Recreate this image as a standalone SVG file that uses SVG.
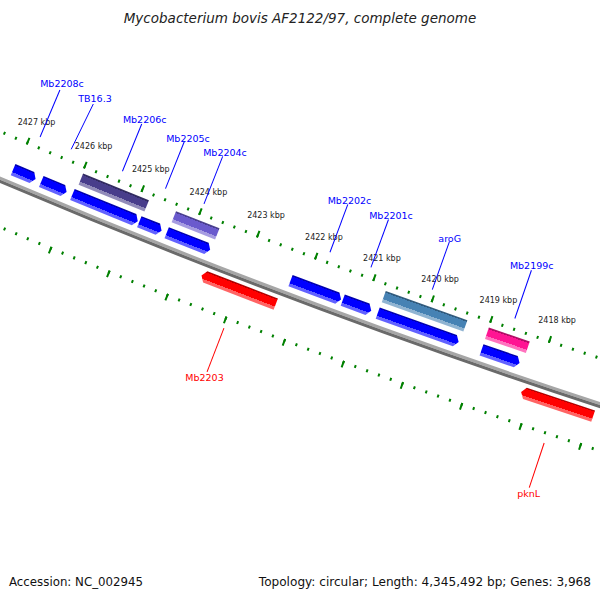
<svg xmlns="http://www.w3.org/2000/svg" width="600" height="600" viewBox="0 0 600 600">
<defs>
<linearGradient id="gBlue" x1="0" y1="0" x2="0" y2="1"><stop offset="0" stop-color="#0000b0"/><stop offset="0.12" stop-color="#0000b0"/><stop offset="0.12" stop-color="#0000ff"/><stop offset="0.72" stop-color="#0000ff"/><stop offset="0.72" stop-color="#6262ff"/><stop offset="1" stop-color="#6262ff"/></linearGradient>
<linearGradient id="gRed" x1="0" y1="0" x2="0" y2="1"><stop offset="0" stop-color="#b30000"/><stop offset="0.12" stop-color="#b30000"/><stop offset="0.12" stop-color="#ff0000"/><stop offset="0.72" stop-color="#ff0000"/><stop offset="0.72" stop-color="#ff6464"/><stop offset="1" stop-color="#ff6464"/></linearGradient>
<linearGradient id="gDsb" x1="0" y1="0" x2="0" y2="1"><stop offset="0" stop-color="#322b61"/><stop offset="0.14" stop-color="#322b61"/><stop offset="0.14" stop-color="#483d8b"/><stop offset="0.72" stop-color="#483d8b"/><stop offset="0.72" stop-color="#918bb9"/><stop offset="1" stop-color="#918bb9"/></linearGradient>
<linearGradient id="gSb" x1="0" y1="0" x2="0" y2="1"><stop offset="0" stop-color="#4a3f90"/><stop offset="0.14" stop-color="#4a3f90"/><stop offset="0.14" stop-color="#6a5acd"/><stop offset="0.72" stop-color="#6a5acd"/><stop offset="0.72" stop-color="#a69ce1"/><stop offset="1" stop-color="#a69ce1"/></linearGradient>
<linearGradient id="gStb" x1="0" y1="0" x2="0" y2="1"><stop offset="0" stop-color="#315b7e"/><stop offset="0.14" stop-color="#315b7e"/><stop offset="0.14" stop-color="#4682b4"/><stop offset="0.72" stop-color="#4682b4"/><stop offset="0.72" stop-color="#90b4d2"/><stop offset="1" stop-color="#90b4d2"/></linearGradient>
<linearGradient id="gPink" x1="0" y1="0" x2="0" y2="1"><stop offset="0" stop-color="#b30e67"/><stop offset="0.14" stop-color="#b30e67"/><stop offset="0.14" stop-color="#ff1493"/><stop offset="0.72" stop-color="#ff1493"/><stop offset="0.72" stop-color="#ff72be"/><stop offset="1" stop-color="#ff72be"/></linearGradient>
</defs>
<style>
text { font-family: "DejaVu Sans", "Liberation Sans", sans-serif; }
.title { font-size: 13.5px; font-style: italic; fill: #222; text-anchor: middle; }
.foot { font-size: 11.8px; fill: #111; }
.klab { font-size: 8px; fill: #222; text-anchor: middle; }
.glab { font-size: 9.5px; text-anchor: middle; }
.tb { fill: #0000ff; }
.tr { fill: #ff0000; }
.arc { fill: none; }
.tmaj { stroke: #008000; stroke-width: 7; stroke-dashoffset: 1; }
.tmin { stroke: #008000; stroke-width: 3; stroke-dashoffset: 1; }
.lb { stroke: #0000ff; stroke-width: 1; }
.lr { stroke: #ff0000; stroke-width: 1; }
.blue { fill: url(#gBlue); }
.red { fill: url(#gRed); }
</style>
<rect width="600" height="600" fill="#ffffff"/>
<text class="title" x="300" y="23">Mycobacterium bovis AF2122/97, complete genome</text>

<g id="ruler">
<path class="arc tmaj" style="stroke-dasharray:2 60.0465" transform="rotate(23.407 2950.5 -6766)" d="M2950.5 734 A7500 7500 0 0 0 3693.83 697.07"/>
<path class="arc tmin" style="stroke-dasharray:2 10.4126" transform="rotate(23.407 2950.5 -6766)" d="M2950.5 736 A7502 7502 0 0 0 3694.03 699.06"/>
<path class="arc tmaj" style="stroke-dasharray:2 60.8076" transform="rotate(23.407 2950.5 -6766)" d="M2950.5 826 A7592 7592 0 0 0 3702.95 788.62"/>
<path class="arc tmin" style="stroke-dasharray:2 10.5582" transform="rotate(23.407 2950.5 -6766)" d="M2950.5 824 A7590 7590 0 0 0 3702.75 786.63"/>
<text class="klab" x="36.5" y="125.1">2427 kbp</text>
<text class="klab" x="93.6" y="149">2426 kbp</text>
<text class="klab" x="150.8" y="172.4">2425 kbp</text>
<text class="klab" x="208.4" y="195.4">2424 kbp</text>
<text class="klab" x="266" y="217.8">2423 kbp</text>
<text class="klab" x="323.9" y="239.7">2422 kbp</text>
<text class="klab" x="381.9" y="261.3">2421 kbp</text>
<text class="klab" x="440.1" y="282.3">2420 kbp</text>
<text class="klab" x="498.4" y="302.9">2419 kbp</text>
<text class="klab" x="557.1" y="322.8">2418 kbp</text>
</g>

<g id="backbone">
<path class="arc" stroke="#a6a6a6" stroke-width="3" transform="rotate(23.407 2950.5 -6766)" d="M2950.5 779 A7545 7545 0 0 0 3698.29 741.85"/>
<path class="arc" stroke="#6a6a6a" stroke-width="3" transform="rotate(23.407 2950.5 -6766)" d="M2950.5 782 A7548 7548 0 0 0 3698.59 744.83"/>
</g>

<g id="connectors">
<line class="lb" transform="rotate(22.861 2950.5 -6766)" x1="2950.5" y1="674.5" x2="2950.5" y2="725.5"/>
<line class="lb" x1="93.3" y1="104" x2="71.2" y2="149.3"/>
<line class="lb" transform="rotate(22.179 2950.5 -6766)" x1="2950.5" y1="674.5" x2="2950.5" y2="725.5"/>
<line class="lb" transform="rotate(21.824 2950.5 -6766)" x1="2950.5" y1="674.5" x2="2950.5" y2="725.5"/>
<line class="lb" transform="rotate(21.507 2950.5 -6766)" x1="2950.5" y1="674.5" x2="2950.5" y2="725.5"/>
<line class="lb" transform="rotate(20.475 2950.5 -6766)" x1="2950.5" y1="674.5" x2="2950.5" y2="725.5"/>
<line class="lb" transform="rotate(20.141 2950.5 -6766)" x1="2950.5" y1="674.5" x2="2950.5" y2="725.5"/>
<line class="lb" transform="rotate(19.642 2950.5 -6766)" x1="2950.5" y1="674.5" x2="2950.5" y2="725.5"/>
<line class="lb" transform="rotate(18.973 2950.5 -6766)" x1="2950.5" y1="674.5" x2="2950.5" y2="725.5"/>
<line class="lr" transform="rotate(21.024 2950.5 -6766)" x1="2950.5" y1="834" x2="2950.5" y2="881"/>
<line class="lr" transform="rotate(18.459 2950.5 -6766)" x1="2950.5" y1="834" x2="2950.5" y2="881"/>
</g>

<g id="Mb2208c"><polygon class="blue" transform="rotate(22.861 2950.5 -6766) translate(2950.5 780)" points="-12.22,-20 8.22,-20 12.22,-14 8.22,-8 -12.22,-8"/><text class="glab tb" x="62" y="87.3">Mb2208c</text></g>
<g id="TB16.3"><polygon class="blue" transform="rotate(22.617 2950.5 -6766) translate(2950.5 780)" points="-13.71,-20 9.71,-20 13.71,-14 9.71,-8 -13.71,-8"/><text class="glab tb" x="95" y="102.3">TB16.3</text></g>
<g id="gene3"><polygon class="blue" transform="rotate(22.196 2950.5 -6766) translate(2950.5 780)" points="-35.3,-20 31.3,-20 35.3,-14 31.3,-8 -35.3,-8"/></g>
<g id="Mb2206c"><rect fill="url(#gDsb)" transform="rotate(22.179 2950.5 -6766) translate(2950.5 780)" x="-35.56" y="-37.5" width="71.12" height="12"/><text class="glab tb" x="144.7" y="123.3">Mb2206c</text></g>
<g id="Mb2205c"><polygon class="blue" transform="rotate(21.824 2950.5 -6766) translate(2950.5 780)" points="-12,-20 8,-20 12,-14 8,-8 -12,-8"/><text class="glab tb" x="188" y="141.7">Mb2205c</text></g>
<g id="gene5"><polygon class="blue" transform="rotate(21.513 2950.5 -6766) translate(2950.5 780)" points="-23.37,-20 19.37,-20 23.37,-14 19.37,-8 -23.37,-8"/></g>
<g id="Mb2204c"><rect fill="url(#gSb)" transform="rotate(21.507 2950.5 -6766) translate(2950.5 780)" x="-23.38" y="-37.5" width="46.75" height="12"/><text class="glab tb" x="225" y="156">Mb2204c</text></g>
<g id="Mb2203"><polygon class="red" transform="rotate(21.024 2950.5 -6766) translate(2950.5 780)" points="-39.77,13 -35.77,7 39.77,7 39.77,19 -35.77,19"/><text class="glab tr" x="204.5" y="380.7">Mb2203</text></g>
<g id="Mb2202c"><polygon class="blue" transform="rotate(20.475 2950.5 -6766) translate(2950.5 780)" points="-26.98,-20 22.98,-20 26.98,-14 22.98,-8 -26.98,-8"/><text class="glab tb" x="349.5" y="204">Mb2202c</text></g>
<g id="Mb2201c"><polygon class="blue" transform="rotate(20.141 2950.5 -6766) translate(2950.5 780)" points="-15.18,-20 11.18,-20 15.18,-14 11.18,-8 -15.18,-8"/><text class="glab tb" x="391" y="219.3">Mb2201c</text></g>
<g id="gene8"><polygon class="blue" transform="rotate(19.646 2950.5 -6766) translate(2950.5 780)" points="-42.97,-20 38.97,-20 42.97,-14 38.97,-8 -42.97,-8"/></g>
<g id="aroG"><rect fill="url(#gStb)" transform="rotate(19.642 2950.5 -6766) translate(2950.5 780)" x="-43.33" y="-37.5" width="86.66" height="12"/><text class="glab tb" x="449.7" y="241.7">aroG</text></g>
<g id="gene9"><polygon class="blue" transform="rotate(18.982 2950.5 -6766) translate(2950.5 780)" points="-20.13,-20 16.13,-20 20.13,-14 16.13,-8 -20.13,-8"/></g>
<g id="Mb2199c"><rect fill="url(#gPink)" transform="rotate(18.973 2950.5 -6766) translate(2950.5 780)" x="-21.61" y="-37.5" width="43.21" height="12"/><text class="glab tb" x="531.7" y="269.3">Mb2199c</text></g>
<g id="pknL"><polygon class="red" transform="rotate(18.459 2950.5 -6766) translate(2950.5 780)" points="-37.96,13 -33.96,7 37.96,7 37.96,19 -33.96,19"/><text class="glab tr" x="528.7" y="497.3">pknL</text></g>

<text class="foot" x="9" y="586">Accession: NC_002945</text>
<text class="foot" x="591" y="586" text-anchor="end" style="font-size:12.1px">Topology: circular; Length: 4,345,492 bp; Genes: 3,968</text>
</svg>
